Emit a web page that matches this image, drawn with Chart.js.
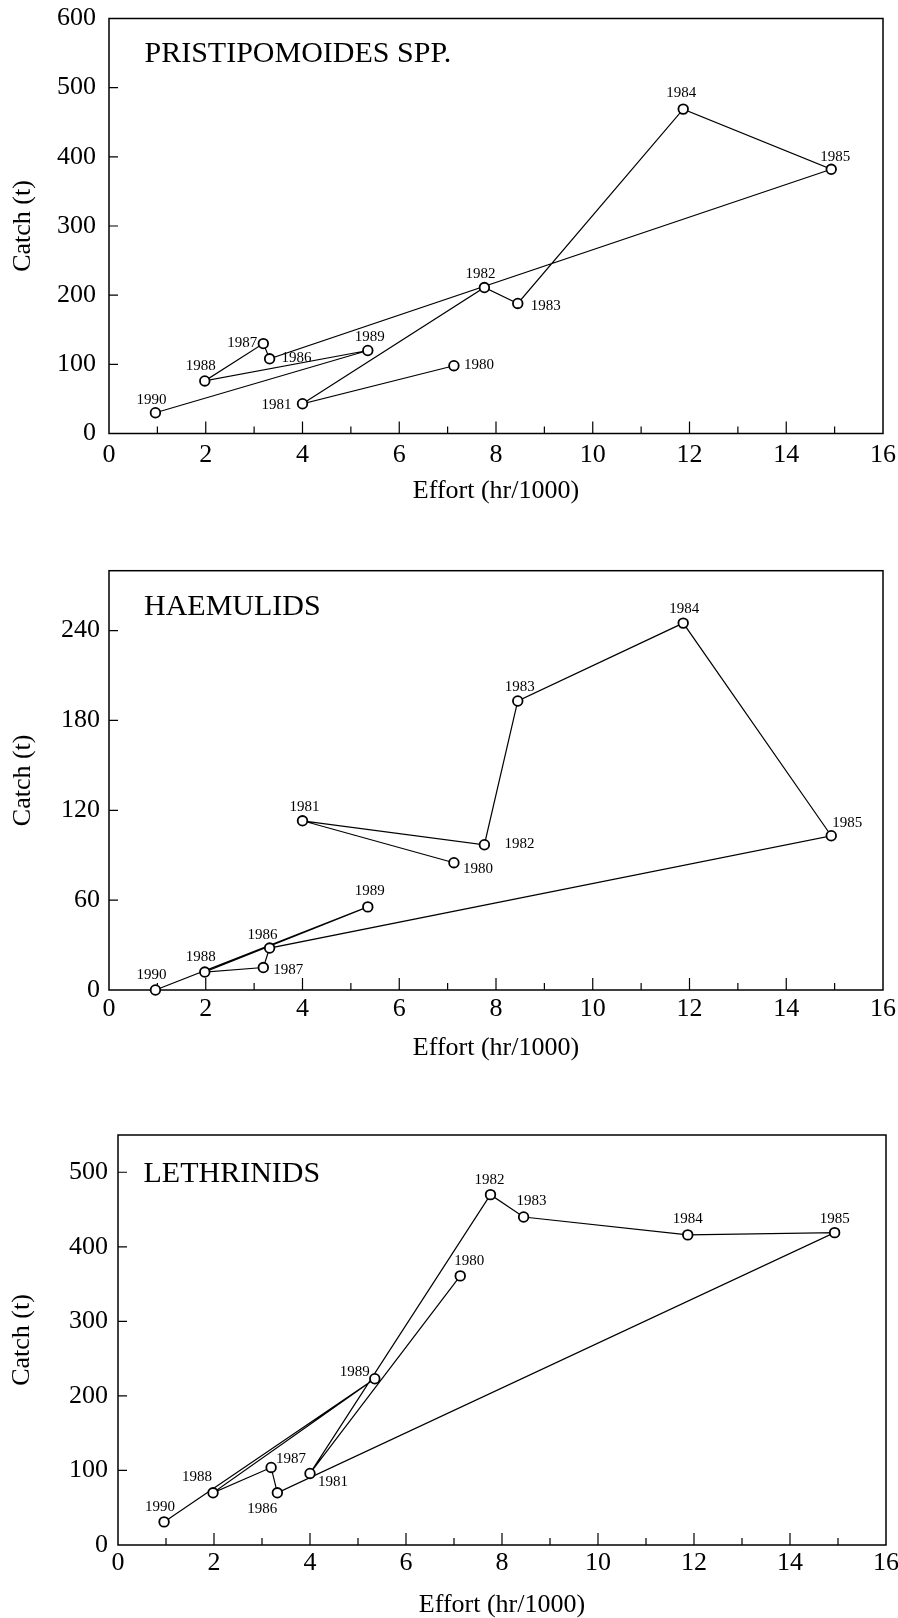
<!DOCTYPE html>
<html>
<head>
<meta charset="utf-8">
<script src="https://cdn.jsdelivr.net/npm/chart.js@4.4.0/dist/chart.umd.min.js"></script>
<style>
  html, body { margin: 0; padding: 0; background: #fff; }
  #wrap { position: relative; width: 898px; height: 1618px; }
  canvas { position: absolute; left: 0; }
</style>
</head>
<body>
<div id="wrap">
  <canvas id="chart1" width="898" height="530" style="top:0px"></canvas>
  <canvas id="chart2" width="898" height="545" style="top:530px"></canvas>
  <canvas id="chart3" width="898" height="543" style="top:1075px"></canvas>
</div>
<script>
// one point per year, joined in year order
var years = ["1980", "1981", "1982", "1983", "1984", "1985", "1986", "1987", "1988", "1989", "1990"];
var effort = [7.13, 4.0, 7.76, 8.45, 11.87, 14.93, 3.32, 3.19, 1.98, 5.35, 0.96];

var catchPristipomoides = [98, 43, 211, 188, 469, 382, 108, 130, 76, 120, 30];
var catchHaemulids = [85, 113, 97, 193, 245, 103, 28, 15, 12, 55.5, 0];
var catchLethrinids = [361, 96, 470, 440, 416, 419, 70, 104, 70, 223, 31];

var xMajorTicks = [0, 2, 4, 6, 8, 10, 12, 14, 16];
var xMinorTicks = [1, 3, 5, 7, 9, 11, 13, 15];
var yTicks1 = [0, 100, 200, 300, 400, 500, 600];
var yTicks2 = [0, 60, 120, 180, 240];
var yTicks3 = [0, 100, 200, 300, 400, 500];

// where each year tag sits relative to its circle (px)
var tags1 = [[25, -1], [-26, 1], [-4, -13], [28, 3], [-2, -16], [4, -12], [27, -1], [-21, -1], [-4, -15], [2, -13], [-4, -13]];
var tags2 = [[24, 6], [2, -14], [35, -1], [2, -14], [1, -14], [16, -13], [-7, -13], [25, 3], [-4, -15], [2, -16], [-4, -15]];
var tags3 = [[9, -15], [23, 9], [-1, -15], [8, -16], [0, -16], [0, -14], [-15, 16], [20, -8], [-16, -16], [-20, -7], [-4, -15]];

var serif = "'Liberation Serif', 'Times New Roman', serif";

var framePlugin = {
    id: "frame",
    beforeDatasetsDraw: function (chart) {
        var ctx = chart.ctx, a = chart.chartArea;
        var xs = chart.scales.x, ys = chart.scales.y;
        ctx.save();
        ctx.strokeStyle = "#000";
        ctx.lineWidth = 1.5;
        ctx.strokeRect(a.left, a.top, a.right - a.left, a.bottom - a.top);
        ctx.lineWidth = 1.2;
        ctx.beginPath();
        xs.ticks.forEach(function (t) {
            if (t.value <= xs.min || t.value >= xs.max) return;
            var px = xs.getPixelForValue(t.value);
            var len = xMajorTicks.indexOf(t.value) >= 0 ? 12 : 7;
            ctx.moveTo(px, a.bottom);
            ctx.lineTo(px, a.bottom - len);
        });
        ys.ticks.forEach(function (t) {
            if (t.value <= ys.min || t.value >= ys.max) return;
            var py = ys.getPixelForValue(t.value);
            ctx.moveTo(a.left, py);
            ctx.lineTo(a.left + 9, py);
        });
        ctx.stroke();
        ctx.restore();
    }
};

var tagPlugin = {
    id: "tags",
    afterDatasetsDraw: function (chart, args, opts) {
        var ctx = chart.ctx, a = chart.chartArea;
        var pts = chart.getDatasetMeta(0).data;
        ctx.save();
        ctx.fillStyle = "#000";
        ctx.font = "15px " + serif;
        ctx.textAlign = "center";
        ctx.textBaseline = "middle";
        pts.forEach(function (p, i) {
            ctx.fillText(years[i], p.x + opts.nudge[i][0], p.y + opts.nudge[i][1]);
        });
        ctx.font = "30px " + serif;
        ctx.textAlign = "left";
        ctx.textBaseline = "alphabetic";
        ctx.fillText(opts.name, a.left + opts.nameAt[0], a.top + opts.nameAt[1]);
        ctx.restore();
    }
};

function ShowPanel(id, values, yTicks, name, tags, box) {
    var canvas = document.getElementById(id);
    var H = canvas.height;
    new Chart(canvas.getContext("2d"), {
        type: "scatter",
        data: {
            datasets: [{
                data: effort.map(function (e, i) { return { x: e, y: values[i] }; }),
                showLine: true,
                borderColor: "#000",
                borderWidth: 1.2,
                pointRadius: 4.8,
                pointBorderWidth: 1.8,
                pointBackgroundColor: "#fff",
                pointBorderColor: "#000",
                clip: false
            }]
        },
        options: {
            responsive: false,
            animation: false,
            devicePixelRatio: 1,
            layout: { padding: { left: 0, right: 898 - box.right, top: box.top, bottom: 0 } },
            plugins: {
                legend: { display: false },
                tooltip: { enabled: false },
                tags: { nudge: tags, name: name, nameAt: box.nameAt }
            },
            scales: {
                x: {
                    type: "linear",
                    min: 0,
                    max: 16,
                    grid: { display: false, drawTicks: false },
                    border: { display: false },
                    afterBuildTicks: function (s) {
                        s.ticks = xMajorTicks.concat(xMinorTicks)
                            .sort(function (p, q) { return p - q; })
                            .map(function (v) { return { value: v }; });
                    },
                    afterFit: function (s) {
                        s.height = H - box.bottom;
                        s.paddingLeft = 0;
                        s.paddingRight = 0;
                    },
                    ticks: {
                        autoSkip: false,
                        maxRotation: 0,
                        padding: box.xPad,
                        color: "#000",
                        font: { family: serif, size: 26 },
                        callback: function (v) { return xMajorTicks.indexOf(v) >= 0 ? String(v) : ""; }
                    },
                    title: {
                        display: true,
                        text: "Effort (hr/1000)",
                        color: "#000",
                        font: { family: serif, size: 26, lineHeight: 1 },
                        padding: { top: 0, bottom: box.xTitlePad }
                    }
                },
                y: {
                    type: "linear",
                    min: yTicks[0],
                    max: box.yMax,
                    grid: { display: false, drawTicks: false },
                    border: { display: false },
                    afterBuildTicks: function (s) {
                        s.ticks = yTicks.map(function (v) { return { value: v }; });
                    },
                    afterFit: function (s) {
                        s.width = box.left;
                        s.paddingTop = 0;
                        s.paddingBottom = 0;
                    },
                    ticks: {
                        padding: box.yPad,
                        color: "#000",
                        font: { family: serif, size: 26 }
                    },
                    title: {
                        display: true,
                        text: "Catch (t)",
                        color: "#000",
                        font: { family: serif, size: 26, lineHeight: 1 },
                        padding: { top: box.yTitlePad, bottom: 0 }
                    }
                }
            }
        },
        plugins: [framePlugin, tagPlugin]
    });
}

ShowPanel("chart1", catchPristipomoides, yTicks1, "PRISTIPOMOIDES SPP.", tags1,
    { left: 109, right: 883, top: 18.5, bottom: 433.5, yMax: 600, xPad: 6, yPad: 13, xTitlePad: 26, yTitlePad: 10, nameAt: [35.5, 43.2] });
ShowPanel("chart2", catchHaemulids, yTicks2, "HAEMULIDS", tags2,
    { left: 109, right: 883, top: 40.7, bottom: 460, yMax: 280, xPad: 4, yPad: 9, xTitlePad: 14, yTitlePad: 10, nameAt: [35, 44.3] });
ShowPanel("chart3", catchLethrinids, yTicks3, "LETHRINIDS", tags3,
    { left: 118, right: 886, top: 60, bottom: 470, yMax: 550, xPad: 3, yPad: 10, xTitlePad: 0, yTitlePad: 9, nameAt: [25.5, 46.7] });
</script>
</body>
</html>
